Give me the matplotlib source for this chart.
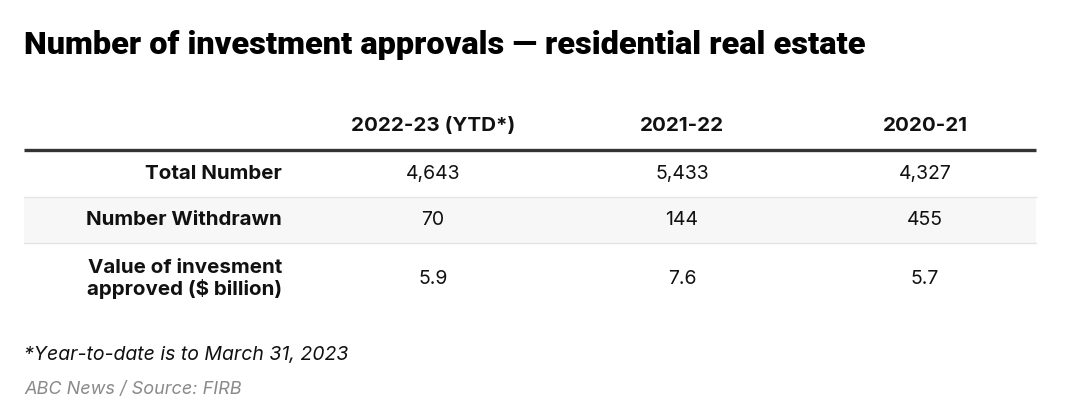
import matplotlib
matplotlib.use("Agg")
import matplotlib.pyplot as plt
from matplotlib.patches import Rectangle

title = "Number of investment approvals — residential real estate"
columns = ["2022-23 (YTD*)", "2021-22", "2020-21"]
row_labels = ["Total Number", "Number Withdrawn", "Value of invesment\napproved ($ billion)"]
total_number = ["4,643", "5,433", "4,327"]
number_withdrawn = ["70", "144", "455"]
value_billion = ["5.9", "7.6", "5.7"]
footnote = "*Year-to-date is to March 31, 2023"
source = "ABC News / Source: FIRB"

W, H = 1080, 407
fig = plt.figure(figsize=(W / 100, H / 100), dpi=100)
ax = fig.add_axes([0, 0, 1, 1])
ax.set_xlim(0, W)
ax.set_ylim(H, 0)
ax.axis("off")

font = "Inter"
ax.text(24, 45, title, fontsize=23.4, fontweight="black", family="Roboto",
        va="center", ha="left", color="#000000")

col_x = [433, 682, 925]
left, right = 24, 1036
header_y = 126
row_bounds = [(151, 197), (197, 243), (243, 322)]

# header
for x, c in zip(col_x, columns):
    ax.text(x, header_y, c, fontsize=14.8, fontweight="bold", family=font,
            ha="center", va="center", color="#111111")

# shaded row
ax.add_patch(Rectangle((left, row_bounds[1][0]), right - left,
                       row_bounds[1][1] - row_bounds[1][0],
                       facecolor="#f7f7f7", edgecolor="none"))
ax.plot([left, right], [197, 197], color="#e4e4e4", lw=1)
ax.plot([left, right], [243, 243], color="#e4e4e4", lw=1)
ax.plot([left, right], [150, 150], color="#333333", lw=2.4, solid_capstyle="butt")

rows = [total_number, number_withdrawn, value_billion]
for (y0, y1), lab, vals in zip(row_bounds, row_labels, rows):
    yc = (y0 + y1) / 2
    if "\n" in lab:
        yc = 279
    ax.text(282, yc, lab, fontsize=14.8, fontweight="bold", family=font,
            ha="right", va="center", color="#111111", linespacing=1.1)
    for x, v in zip(col_x, vals):
        ax.text(x, yc, v, fontsize=14, family=font, ha="center", va="center",
                color="#111111")

ax.text(24, 355, footnote, fontsize=14, family=font, style="italic",
        ha="left", va="center", color="#111111")
ax.text(24, 390, source, fontsize=13, family=font, style="italic",
        ha="left", va="center", color="#8a8a8a")

fig.savefig("out.png", dpi=100, facecolor="white")
